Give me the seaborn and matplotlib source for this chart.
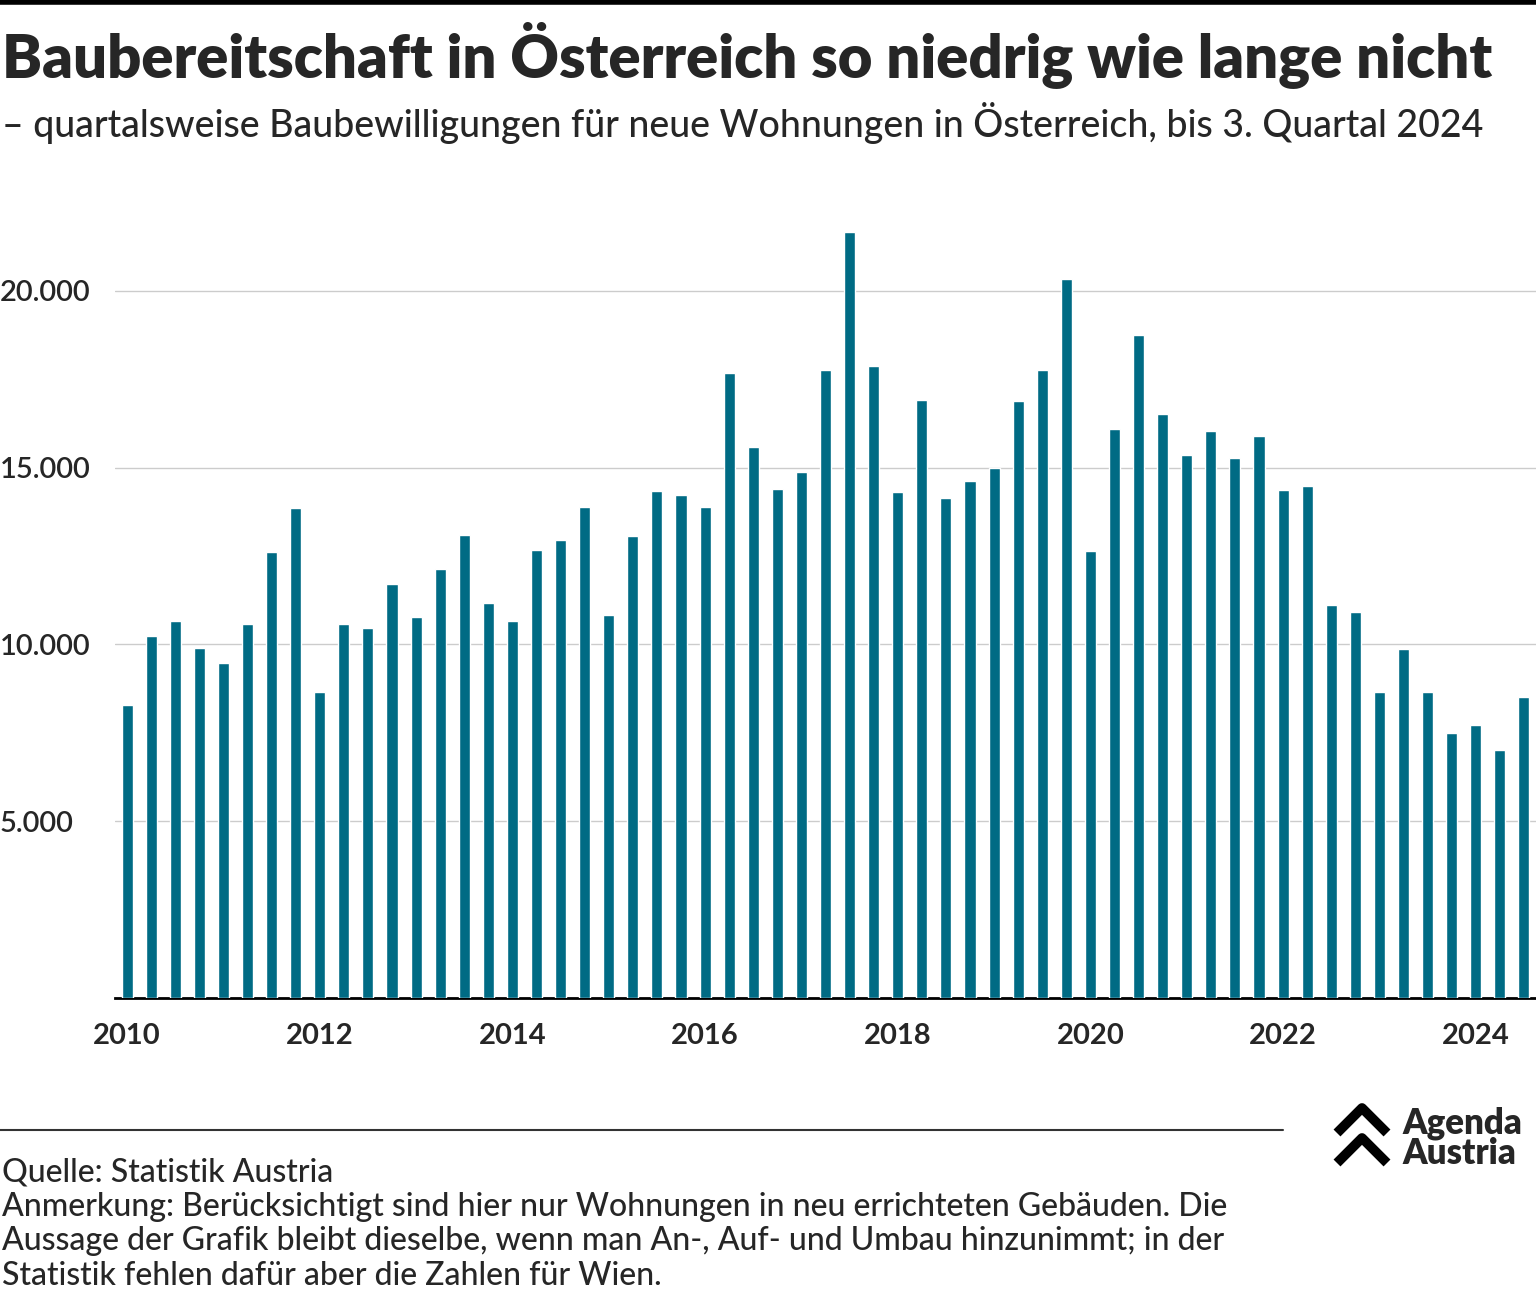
import numpy as np
import pandas as pd
import matplotlib
matplotlib.use("Agg")
import matplotlib.pyplot as plt
from matplotlib.lines import Line2D
import seaborn as sns

# Baubewilligungen neue Wohnungen, 2010 Q1 - 2024 Q3
jahre = list(range(2010, 2025))
werte = [
    8290, 10240, 10660, 9900,
    9480, 10580, 12620, 13860,
    8660, 10580, 10470, 11710,
    10780, 12140, 13100, 11170,
    10660, 12670, 12960, 13890,
    10830, 13070, 14340, 14230,
    13890, 17680, 15590, 14400,
    14880, 17770, 21670, 17880,
    14310, 16920, 14140, 14630,
    14990, 16890, 17770, 20340,
    12650, 16100, 18760, 16520,
    15360, 16040, 15280, 15900,
    14370, 14480, 11120, 10920,
    8660, 9870, 8660, 7500,
    7720, 7020, 8510,
]
df = pd.DataFrame({"idx": np.arange(len(werte)), "wert": werte})

sns.set_theme(style="white")
plt.rcParams["font.family"] = ["Lato", "DejaVu Sans"]

W, H = 1536, 1297
fig = plt.figure(figsize=(W / 100, H / 100), dpi=100)
ax = fig.add_axes([115 / W, 1 - 998 / H, 1 - 115 / W, (998 - 220) / H])

sns.barplot(data=df, x="idx", y="wert", native_scale=True, color="#006b84",
            width=0.46, saturation=1, ax=ax, zorder=3)
ax.set_xlim(-0.5, 58.5)
ax.set_ylim(0, 22000)
ax.set_xlabel("")
ax.set_ylabel("")

yt = [5000, 10000, 15000, 20000]
ax.set_yticks(yt)
ax.set_yticklabels([f"{v:,}".replace(",", ".") for v in yt], ha="left",
                   fontsize=21, fontweight="semibold")
ax.tick_params(axis="y", length=0, pad=83)
for v in yt:
    ax.axhline(v, color="#cccccc", lw=1, zorder=1)

ax.set_xticks([i * 4 for i in range(len(jahre))][::2])
ax.set_xticklabels([str(j) for j in jahre][::2], fontsize=21, fontweight="bold")
ax.tick_params(axis="x", length=0, pad=18)

for s in ["top", "right", "left"]:
    ax.spines[s].set_visible(False)
ax.spines["bottom"].set_color("black")
ax.spines["bottom"].set_linewidth(2)

# Kopf
fig.add_artist(Line2D([0, 1], [1 - 2 / H, 1 - 2 / H], color="black", lw=4))
fig.text(2 / W, 1 - 55 / H, "Baubereitschaft in Österreich so niedrig wie lange nicht",
         fontsize=43, fontweight="heavy", va="center", ha="left")
fig.text(2 / W, 1 - 123 / H,
         "– quartalsweise Baubewilligungen für neue Wohnungen in Österreich, bis 3. Quartal 2024",
         fontsize=27, fontweight="medium", va="center", ha="left")

# Fuß
fig.add_artist(Line2D([0, 1283 / W], [1 - 1130 / H, 1 - 1130 / H], color="#333333", lw=1.5))
fig.text(2 / W, 1 - 1157 / H,
         "Quelle: Statistik Austria\n"
         "Anmerkung: Berücksichtigt sind hier nur Wohnungen in neu errichteten Gebäuden. Die\n"
         "Aussage der Grafik bleibt dieselbe, wenn man An-, Auf- und Umbau hinzunimmt; in der\n"
         "Statistik fehlen dafür aber die Zahlen für Wien.",
         fontsize=23, fontweight="medium", va="top", linespacing=1.19)

# Logo
for dy in (0, 30):
    fig.add_artist(Line2D([1337 / W, 1362 / W, 1387 / W],
                          [1 - (1133 + dy) / H, 1 - (1108 + dy) / H, 1 - (1133 + dy) / H],
                          color="black", lw=7, solid_capstyle="butt"))
fig.text(1402 / W, 1 - 1123 / H, "Agenda", fontsize=25, fontweight="heavy", va="center")
fig.text(1402 / W, 1 - 1153 / H, "Austria", fontsize=25, fontweight="heavy", va="center")

fig.savefig("out.png", dpi=100)
